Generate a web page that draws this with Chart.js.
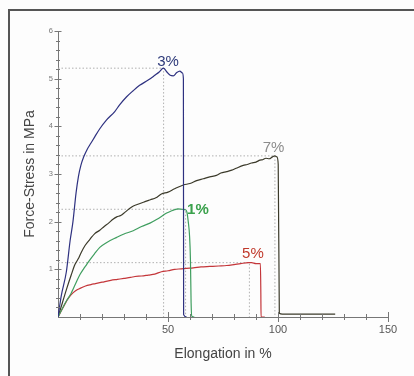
<!DOCTYPE html>
<html>
<head>
<meta charset="utf-8">
<script src="https://cdn.jsdelivr.net/npm/chart.js@4.4.1/dist/chart.umd.min.js"></script>
<style>
  body { margin: 0; background: #fdfdfd; }
  #wrap { position: relative; width: 414px; height: 376px; overflow: hidden; }
  #frame {
    position: absolute; left: 8px; top: 9px; width: 420px; height: 380px;
    border-top: 2px solid #555; border-left: 2px solid #555;
  }
  #canvas { position: absolute; left: 0; top: 0; }
</style>
</head>
<body>
<div id="wrap">
  <div id="frame"></div>
  <canvas id="canvas" width="414" height="376"></canvas>
</div>
<script>
const canvas = document.getElementById("canvas");

// 3% curve
const elong3 = [0, 1.5, 3.8, 5.5, 6.8, 8.2, 9.3, 10.4, 11.7, 13.3, 15, 16.7, 19, 22, 25.8, 28, 31.2, 34, 37.1, 41, 44, 46, 47.9, 49.5, 51, 52.4, 54, 55.4, 56.5, 57, 57.1, 58.5];
const stress3 = [0, 0.45, 0.95, 1.6, 2.0, 2.6, 2.95, 3.18, 3.36, 3.52, 3.65, 3.78, 3.95, 4.13, 4.31, 4.45, 4.62, 4.74, 4.86, 4.97, 5.07, 5.14, 5.22, 5.14, 5.07, 5.06, 5.13, 5.16, 5.12, 5.0, 0.05, 0.0];

// 7% curve
const elong7 = [0, 2, 4, 6, 7.7, 9.2, 10.5, 12.3, 14.5, 16.7, 19, 21, 23, 25, 26.7, 28.5, 30.5, 33.5, 36, 39.5, 42, 44.5, 47, 50, 53, 57, 60, 63, 66, 69, 72, 74, 76.7, 79, 81, 84.2, 86, 88, 90, 91.8, 93, 94.5, 96, 97.5, 98.6, 99.5, 100.1, 100.6, 102, 126];
const stress7 = [0, 0.3, 0.6, 0.88, 1.1, 1.22, 1.35, 1.5, 1.63, 1.75, 1.82, 1.9, 1.97, 2.05, 2.1, 2.13, 2.2, 2.31, 2.36, 2.42, 2.46, 2.5, 2.58, 2.62, 2.69, 2.77, 2.8, 2.86, 2.9, 2.94, 2.97, 3.02, 3.05, 3.08, 3.12, 3.18, 3.2, 3.23, 3.25, 3.29, 3.3, 3.33, 3.32, 3.36, 3.38, 3.36, 3.2, 0.08, 0.06, 0.06];

// 1% curve
const elong1 = [0, 2, 4, 6, 7, 8.5, 10, 11.5, 13, 14.5, 16.5, 19, 22, 26.7, 30, 34.2, 38, 41.8, 45, 49.4, 51.7, 53, 54.5, 56.5, 58, 58.6, 59.2, 59.8, 60.2, 60.5, 60.8, 62];
const stress1 = [0, 0.18, 0.35, 0.5, 0.6, 0.75, 0.89, 1.0, 1.1, 1.2, 1.32, 1.46, 1.56, 1.67, 1.74, 1.81, 1.9, 1.97, 2.05, 2.18, 2.23, 2.25, 2.27, 2.26, 2.25, 2.2, 2.0, 1.7, 1.2, 0.3, 0.02, 0.0];

// 5% curve
const elong5 = [0, 1.5, 3, 4.5, 6, 8, 10, 12.5, 15, 17, 20, 24, 27, 30, 33, 35, 38, 41, 44, 47, 50, 53, 56, 58.5, 61.5, 65, 69, 73, 76.7, 80, 83, 86.5, 88, 90, 92, 92.2, 92.3, 94];
const stress5 = [0, 0.13, 0.26, 0.38, 0.47, 0.55, 0.6, 0.65, 0.68, 0.7, 0.73, 0.77, 0.79, 0.81, 0.83, 0.85, 0.86, 0.88, 0.9, 0.95, 0.97, 1.0, 1.01, 1.02, 1.03, 1.05, 1.06, 1.07, 1.08, 1.1, 1.12, 1.14, 1.14, 1.12, 1.12, 0.5, 0.0, 0.0];

// peak markers (dotted guides) and their labels
const peakLabels = ['3%', '7%', '1%', '5%'];
const peakX = [48, 98.6, 58, 87];
const peakY = [5.22, 3.38, 2.26, 1.14];
const labelX = [50, 98, 63.6, 88.6];
const labelY = [5.35, 3.55, 2.25, 1.32];
const labelColors = ['#2e3a7a', '#8c8c8c', '#3aa14c', '#c0392b'];
const labelBold = [false, false, true, false];

const xTicks = [0, 50, 100, 150];
const yTicks = [0, 1, 2, 3, 4, 5, 6];

function toPoints(xs, ys) {
  return xs.map((x, i) => ({ x: x, y: ys[i] }));
}

function curve(xs, ys, color) {
  return {
    data: toPoints(xs, ys),
    borderColor: color,
    borderWidth: 1.2,
    pointRadius: 0,
    showLine: true,
    cubicInterpolationMode: 'monotone',
  };
}

const guideSets = peakX.map((px, i) => ({
  data: [{ x: 0, y: peakY[i] }, { x: px, y: peakY[i] }, { x: px, y: 0 }],
  borderColor: '#b0b0b0',
  borderWidth: 1,
  borderDash: [1.5, 2],
  pointRadius: 0,
  showLine: true,
  tension: 0,
}));

// tick marks crossing both axes, plus peak labels
const axisTicks = {
  id: 'axisTicks',
  afterDraw(chart) {
    const ctx = chart.ctx;
    const xs = chart.scales.x, ys = chart.scales.y;
    const y0 = ys.getPixelForValue(0);
    const x0 = xs.getPixelForValue(0);
    ctx.save();
    ctx.strokeStyle = '#777';
    ctx.lineWidth = 1;
    ctx.beginPath();
    for (let v = 10; v <= 150; v += 10) {
      const p = Math.round(xs.getPixelForValue(v)) + 0.5;
      const len = v % 50 === 0 ? 5 : 3;
      ctx.moveTo(p, y0 - len);
      ctx.lineTo(p, y0 + len);
    }
    for (let k = 1; k <= 30; k++) {
      const v = k * 0.2;
      const p = Math.round(ys.getPixelForValue(v)) + 0.5;
      const len = k % 5 === 0 ? 3.5 : 2;
      ctx.moveTo(x0 - len, p);
      ctx.lineTo(x0 + len, p);
    }
    ctx.stroke();

    peakLabels.forEach((t, i) => {
      ctx.font = (labelBold[i] ? 'bold ' : '') + '15px "Liberation Sans", Arial, sans-serif';
      ctx.fillStyle = labelColors[i];
      ctx.textAlign = 'center';
      ctx.textBaseline = 'middle';
      ctx.fillText(t, xs.getPixelForValue(labelX[i]), ys.getPixelForValue(labelY[i]));
    });
    ctx.restore();
  }
};

function init() {
  new Chart(canvas, {
    type: 'scatter',
    data: {
      datasets: [
        curve(elong3, stress3, '#2e3180'),
        curve(elong1, stress1, '#3f9e5f'),
        curve(elong5, stress5, '#c4363a'),
        curve(elong7, stress7, '#3b3a2a'),
        ...guideSets,
      ]
    },
    options: {
      responsive: false,
      animation: false,
      events: [],
      layout: { padding: { top: 31, right: 26, left: 0, bottom: 0 } },
      plugins: { legend: { display: false }, tooltip: { enabled: false } },
      scales: {
        x: {
          type: 'linear',
          min: xTicks[0],
          max: xTicks[xTicks.length - 1],
          afterBuildTicks: s => { s.ticks = xTicks.map(v => ({ value: v })); },
          afterFit: s => { s.height = 59; },
          grid: { display: false, drawTicks: false },
          border: { display: true, color: '#777', width: 1 },
          ticks: {
            padding: 6.5,
            color: '#555',
            font: { size: 11, family: '"Liberation Sans", Arial, sans-serif' },
            callback: v => v === 0 ? '' : v,
          },
          title: {
            display: true,
            text: 'Elongation in %',
            color: '#444',
            font: { size: 14, family: '"Liberation Sans", Arial, sans-serif' },
            padding: { top: 0, bottom: 13 },
          },
        },
        y: {
          type: 'linear',
          min: yTicks[0],
          max: yTicks[yTicks.length - 1],
          afterBuildTicks: s => { s.ticks = yTicks.map(v => ({ value: v })); },
          afterFit: s => { s.width = 58; },
          grid: { display: false, drawTicks: false },
          border: { display: true, color: '#777', width: 1 },
          ticks: {
            padding: 5,
            color: '#777',
            font: { size: 7.5, family: '"Liberation Sans", Arial, sans-serif' },
            callback: v => v === 0 ? '' : v,
          },
          title: {
            display: true,
            text: 'Force-Stress in MPa',
            color: '#444',
            font: { size: 14, family: '"Liberation Sans", Arial, sans-serif' },
            padding: { top: 22, bottom: 0 },
          },
        },
      },
    },
    plugins: [axisTicks],
  });
}

document.addEventListener("DOMContentLoaded", init);
</script>
</body>
</html>
